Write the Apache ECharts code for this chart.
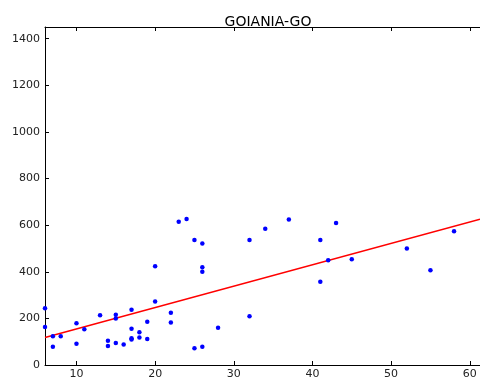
<!DOCTYPE html>
<html>
<head>
<meta charset="utf-8">
<script src="https://cdn.jsdelivr.net/npm/echarts@6/dist/echarts.min.js"></script>
<style>html,body{margin:0;padding:0;background:#fff;}#c{width:480px;height:380px;}</style>
</head>
<body>
<div id="c"></div>
<script>
var titleText = "GOIANIA-GO";
var xValues = [6,6,7,7,8,10,10,11,13,14,14,15,15,15,16,17,17,17,17,18,18,19,19,20,20,22,22,23,24,25,25,26,26,26,26,28,32,32,34,37,41,41,42,43,45,52,55,58];
var yValues = [243,163,123,78,123,179,91,153,213,104,81,216,199,94,88,237,155,115,109,140,118,186,112,272,424,224,182,614,626,536,72,521,419,400,78,160,536,209,585,624,536,357,449,609,454,500,406,574];
var fitIntercept = 63;
var fitSlope = 9.17;
var xTicks = [10,20,30,40,50,60];
var yTicks = [0,200,400,600,800,1000,1200,1400];
var xMin = 6, xMax = 61.3, yMin = 0, yMax = 1450;

var pts = xValues.map(function(x,i){return [x,yValues[i]];});
var fitLine = [[xMin, fitIntercept + fitSlope*xMin],[xMax, fitIntercept + fitSlope*xMax]];

var font = 'DejaVu Sans';
var fmt = function(v){return String(v);};
var lineCommon = {show:true,lineStyle:{color:'#000',width:1}};
var chart = echarts.init(document.getElementById('c'), null, {renderer:'canvas'});
chart.setOption({
  animation:false,
  backgroundColor:'#fff',
  title:{text:titleText,left:263,top:10,textAlign:'center',textStyle:{fontFamily:font,fontSize:14,fontWeight:'normal',color:'#000'}},
  grid:{left:45,right:0,top:27,bottom:12,containLabel:false},
  xAxis:[
    {type:'value',min:xMin,max:xMax,position:'bottom',splitLine:{show:false},axisLine:lineCommon,
      axisLabel:{customValues:xTicks,formatter:fmt,fontFamily:font,fontSize:11,color:'#222',margin:4},
      axisTick:{show:true,inside:true,length:4,customValues:xTicks,lineStyle:{color:'#000'}}},
    {type:'value',min:xMin,max:xMax,position:'top',splitLine:{show:false},axisLine:lineCommon,
      axisLabel:{show:false},
      axisTick:{show:true,inside:true,length:4,customValues:xTicks,lineStyle:{color:'#000'}}}
  ],
  yAxis:[
    {type:'value',min:yMin,max:yMax,splitLine:{show:false},axisLine:lineCommon,
      axisLabel:{customValues:yTicks,formatter:fmt,fontFamily:font,fontSize:11,color:'#222',margin:5},
      axisTick:{show:true,inside:true,length:4,customValues:yTicks,lineStyle:{color:'#000'}}}
  ],
  series:[
    {type:'scatter',data:pts,symbolSize:4.5,itemStyle:{color:'#0000ff',opacity:1},z:3},
    {type:'line',data:fitLine,showSymbol:false,symbol:'none',lineStyle:{color:'#ff0000',width:1.5},z:2,clip:true}
  ]
});
</script>
</body>
</html>
